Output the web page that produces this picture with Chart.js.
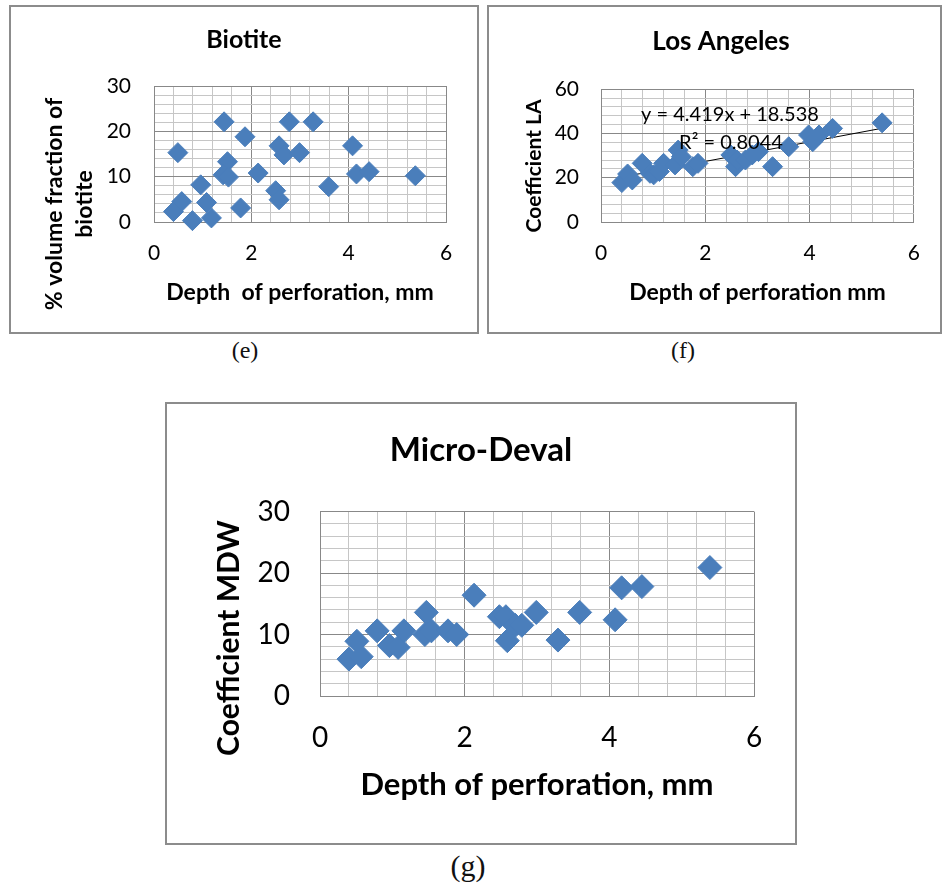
<!DOCTYPE html>
<html>
<head>
<meta charset="utf-8">
<script src="https://cdn.jsdelivr.net/npm/chart.js@4.4.0/dist/chart.umd.min.js"></script>
<style>
body{margin:0;background:#fff}
#page{position:relative;width:942px;height:887px;background:#fff;overflow:hidden}
.box{position:absolute;border:2px solid #8c8c8c;box-sizing:border-box}
canvas{position:absolute}
.cap{position:absolute;font-family:"Liberation Serif",serif;font-size:24px;transform:translate(-50%,-50%);color:#111}
</style>
</head>
<body>
<div id="page">
    <div class="box" style="left:9px;top:5px;width:470px;height:329px"></div>
    <div class="box" style="left:487px;top:5px;width:455px;height:329px"></div>
    <div class="box" style="left:165px;top:402px;width:632px;height:443px"></div>

    <canvas id="bioChart" width="466" height="325" style="left:11px;top:7px"></canvas>
    <canvas id="laChart" width="450" height="325" style="left:489px;top:7px"></canvas>
    <canvas id="mdwChart" width="628" height="439" style="left:167px;top:404px"></canvas>

    <div class="cap" style="left:245px;top:350px">(e)</div>
    <div class="cap" style="left:683px;top:350px">(f)</div>
    <div class="cap" style="left:468px;top:866px;font-size:30px">(g)</div>
</div>
<script>

// Biotite (e)
let bioDepth = [0.49,0.40,0.57,0.79,0.96,1.08,1.18,1.44,1.51,1.42,1.53,1.78,1.87,2.14,2.50,2.57,2.57,2.67,2.78,2.99,3.27,3.59,4.08,4.16,4.42,5.37]
let bioVolume = [15.3,2.3,4.5,0.3,8.2,4.3,0.9,22.1,13.3,10.4,9.9,3.1,18.8,10.8,6.9,4.9,16.8,14.8,22.1,15.3,22.1,7.8,16.8,10.6,11.1,10.2]

// Los Angeles (f)
let laDepth = [0.40,0.51,0.60,0.79,0.94,1.01,1.12,1.20,1.42,1.48,1.54,1.76,1.86,2.49,2.58,2.61,2.77,2.90,3.02,3.29,3.60,3.98,4.06,4.18,4.44,5.39]
let laCoef = [17.8,21.7,19.0,26.5,22.0,21.3,22.8,26.5,25.8,32.5,29.5,25.0,26.5,30.3,25.0,28.0,28.0,30.3,31.8,25.0,34.0,39.3,36.3,39.3,42.3,44.8]
let laSlope = 4.419
let laIntercept = 18.538
let laR2 = "0.8044"

// Micro-Deval (g)
let mdwDepth = [0.40,0.51,0.57,0.79,0.96,1.08,1.16,1.47,1.45,1.54,1.77,1.89,2.13,2.48,2.57,2.59,2.70,2.79,2.99,3.29,3.59,4.08,4.17,4.45,5.39]
let mdwCoef = [6.0,8.9,6.4,10.6,8.2,7.9,10.6,13.6,10.0,10.6,10.6,10.0,16.4,12.9,12.9,9.0,11.5,11.5,13.6,9.1,13.6,12.4,17.6,17.8,20.9]

// axis ranges: [max, grid step, label step]
let depthAxis = [6, 0.4, 2]
let bioAxis = [30, 2, 10]
let laAxis = [60, 4, 20]
let mdwAxis = [30, 2, 10]

Chart.defaults.font.family = "Lato"
Chart.defaults.color = "#000"

const BLUE = "#4a7ebb"

function isMajor(v, step){
    return Math.abs(v - Math.round(v / step) * step) < 1e-6
}

function gridTicks(max, step){
    let out = []
    let n = Math.round(max / step)
    for(let i = 0; i <= n; i++){
        out.push({ value: Math.round(i * step * 1000) / 1000 })
    }
    return out
}

const notes = {
    id:'notes',
    afterDraw(chart, args, opts){
        const ctx = chart.ctx
        ;(opts.items || []).forEach(it => {
            ctx.save()
            ctx.font = it.font
            ctx.fillStyle = "#000"
            ctx.textAlign = "center"
            ctx.textBaseline = "middle"
            ctx.translate(it.x, it.y)
            if(it.rot){
                ctx.rotate(it.rot)
            }
            ctx.fillText(it.text, 0, 0)
            ctx.restore()
        })
    }
}

function points(xs, ys){
    return xs.map((x, i) => ({ x: x, y: ys[i] }))
}

function makeChart(id, cfg){
    return new Chart(
        document.getElementById(id),
        {
            type:'scatter',
            data:{ datasets: cfg.datasets },
            plugins:[notes],
            options:{
                responsive:false,
                animation:false,
                layout:{ padding:{ left: cfg.padL, right: cfg.padR, top:0, bottom:0 } },
                plugins:{
                    legend:{ display:false },
                    tooltip:{ enabled:false },
                    title:{
                        display:true,
                        text: cfg.title,
                        font:{ size: cfg.titleSize, weight:'bold' },
                        color:"#000",
                        padding:{ top: cfg.titleTop, bottom: cfg.titleBottom }
                    },
                    notes:{ items: cfg.notes }
                },
                scales:{
                    x:{
                        type:'linear',
                        min:0,
                        max:depthAxis[0],
                        afterBuildTicks: s => { s.ticks = gridTicks(depthAxis[0], depthAxis[1]) },
                        afterFit: s => { s.height = cfg.xHeight },
                        ticks:{
                            autoSkip:false,
                            maxRotation:0,
                            padding: cfg.xTickPad,
                            font:{ size: cfg.tickSize },
                            color:"#000",
                            callback: v => isMajor(v, depthAxis[2]) ? String(Math.round(v)) : ''
                        },
                        grid:{
                            drawTicks:false,
                            color: c => isMajor(c.tick.value, depthAxis[2]) ? "#888888" : "#c6c6c6"
                        },
                        border:{ color:"#888888" },
                        title:{
                            display:true,
                            text: cfg.xTitle,
                            font:{ size: cfg.xTitleSize, weight:'bold' },
                            color:"#000",
                            padding:{ top:0, bottom: cfg.xTitlePad }
                        }
                    },
                    y:{
                        type:'linear',
                        min:0,
                        max:cfg.yAxis[0],
                        afterBuildTicks: s => { s.ticks = gridTicks(cfg.yAxis[0], cfg.yAxis[1]) },
                        afterFit: s => { s.width = cfg.yWidth },
                        ticks:{
                            autoSkip:false,
                            padding: cfg.yTickPad,
                            font:{ size: cfg.tickSize },
                            color:"#000",
                            callback: v => isMajor(v, cfg.yAxis[2]) ? String(Math.round(v)) : ''
                        },
                        grid:{
                            drawTicks:false,
                            color: c => isMajor(c.tick.value, cfg.yAxis[2]) ? "#888888" : "#c6c6c6"
                        },
                        border:{ color:"#888888" }
                    }
                }
            }
        }
    )
}

function markers(xs, ys, r){
    return {
        data: points(xs, ys),
        pointStyle:'rectRot',
        pointRadius:r,
        backgroundColor:BLUE,
        borderColor:BLUE,
        borderWidth:1,
        clip:false
    }
}

let bioChart = makeChart("bioChart", {
    datasets:[ markers(bioDepth, bioVolume, 10) ],
    title:"Biotite", titleSize:25, titleTop:18, titleBottom:31,
    padL:31, padR:31, yWidth:112, xHeight:110,
    tickSize:21, xTickPad:19, yTickPad:23,
    xTitle:"Depth  of perforation, mm", xTitleSize:23, xTitlePad:26,
    yAxis:bioAxis,
    notes:[
        { text:"% volume fraction of", x:44, y:197, rot:-Math.PI/2, font:"bold 23px Lato" },
        { text:"biotite", x:74, y:197, rot:-Math.PI/2, font:"bold 23px Lato" }
    ]
})

let laFit = [laDepth[0], laDepth[laDepth.length - 1]].map(x => ({ x: x, y: laSlope * x + laIntercept }))

let laChart = makeChart("laChart", {
    datasets:[
        markers(laDepth, laCoef, 10),
        {
            data: laFit,
            showLine:true,
            borderColor:"#000",
            borderWidth:1,
            pointRadius:0
        }
    ],
    title:"Los Angeles", titleSize:26, titleTop:19, titleBottom:32,
    padL:33, padR:19, yWidth:79, xHeight:110,
    tickSize:21, xTickPad:19, yTickPad:22,
    xTitle:"Depth of perforation mm", xTitleSize:23, xTitlePad:26,
    yAxis:laAxis,
    notes:[
        { text:"Coefficient LA", x:45, y:159, rot:-Math.PI/2, font:"bold 21px Lato" },
        { text:"y = " + laSlope + "x + " + laIntercept, x:241, y:108, font:"20px Lato" },
        { text:"R\u00b2 = " + laR2, x:242, y:136, font:"20px Lato" }
    ]
})

let mdwChart = makeChart("mdwChart", {
    datasets:[ markers(mdwDepth, mdwCoef, 12) ],
    title:"Micro-Deval", titleSize:33, titleTop:27, titleBottom:41,
    padL:41, padR:41, yWidth:112, xHeight:147,
    tickSize:28, xTickPad:25, yTickPad:30,
    xTitle:"Depth of perforation, mm", xTitleSize:31, xTitlePad:39,
    yAxis:mdwAxis,
    notes:[
        { text:"Coefficient MDW", x:62, y:234, rot:-Math.PI/2, font:"bold 30px Lato" }
    ]
})

</script>
</body>
</html>
